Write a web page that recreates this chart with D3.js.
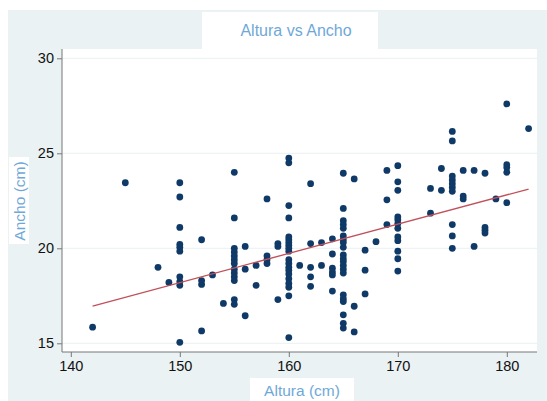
<!DOCTYPE html>
<html>
<head>
<meta charset="utf-8">
<script src="https://cdn.jsdelivr.net/npm/d3@7"></script>
<style>
html,body{margin:0;padding:0;background:#fff;}
svg{display:block;font-family:"Liberation Sans",Arial,Helvetica,sans-serif;}
</style>
</head>
<body>
<svg id="chart" width="547" height="401"></svg>
<script>
// ---- data ----
const chartTitle = "Altura vs Ancho";
const xLabel = "Altura (cm)";
const yLabel = "Ancho (cm)";
const xTicks = [140, 150, 160, 170, 180];
const yTicks = [15, 20, 25, 30];

const altura = [
  142, 145, 148, 149,
  150,150,150,150,150,150,150,150,150,150,
  152,152,152,152, 153, 154,
  155,155,155,155,155,155,155,155,155,155,155,155,155,
  156,156,156, 157,157, 158,158,158,158, 159,159,159,
  160,160,160,160,160,160,160,160,160,160,160,160,160,160,160,160,160,160,160,160,
  161, 162,162,162,162,162, 163,163, 164,164,164,164,164,164,
  165,165,165,165,165,165,165,165,165,165,165,165,165,165,165,165,165,165,165,165,165,
  166,166,166, 167,167,167, 168, 169,169,169,
  170,170,170,170,170,170,170,170,170,170,170,170,
  173,173, 174,174,
  175,175,175,175,175,175,175,175,175,175,
  176,176,176, 177,177, 178,178,178,178, 179,
  180,180,180,180,180, 182
];
const ancho = [
  15.85, 23.45, 19.0, 18.2,
  23.45,22.7,21.1,20.2,20.05,19.85,18.5,18.25,18.05,15.05,
  20.45,18.3,18.1,15.65, 18.6, 17.1,
  24.0,21.6,20.0,19.8,19.6,19.4,19.2,18.9,18.7,18.5,18.3,17.3,17.05,
  20.1,18.9,16.45, 19.1,18.05, 22.6,19.6,19.4,19.2, 20.25,20.1,17.3,
  24.75,24.5,22.25,21.6,20.6,20.45,20.3,20.15,20.0,19.85,19.4,19.2,19.0,18.85,18.65,18.4,18.15,17.95,17.5,15.3,
  19.1, 23.4,20.25,19.0,18.5,18.0, 20.3,19.1, 20.5,19.7,18.95,18.75,18.6,17.75,
  23.95,22.1,21.45,21.25,21.05,20.65,20.45,20.3,20.05,19.65,19.45,19.3,19.1,18.9,18.7,17.55,17.35,17.2,16.5,16.05,15.8,
  23.65,16.95,15.6, 19.9,18.85,17.6, 20.35, 24.1,22.55,21.25,
  24.35,23.5,23.05,21.65,21.5,21.3,21.05,20.6,20.4,19.85,19.45,18.8,
  23.15,21.85, 24.2,23.05,
  26.15,25.65,23.8,23.6,23.4,23.2,23.0,21.25,20.65,20.0,
  24.1,22.75,22.6, 24.1,20.1, 23.95,21.1,20.95,20.8, 22.6,
  27.6,24.4,24.25,24.0,22.4, 26.3
];
// fitted line end points
const fitX = [142, 182];
const fitY = [16.96, 23.12];

// ---- layout ----
const svg = d3.select("#chart");
const plot = {left: 62, right: 537, top: 49, bottom: 352};

const x = d3.scaleLinear().domain([140, 180]).range([70.8, 506.8]);
const y = d3.scaleLinear().domain([15, 30]).range([343.3, 58.3]);

// outer panel
svg.append("rect").attr("x", 8).attr("y", 10).attr("width", 539).attr("height", 391).attr("fill", "#eaf2f3");
// plot region
svg.append("rect").attr("x", plot.left).attr("y", plot.top)
  .attr("width", plot.right - plot.left).attr("height", plot.bottom - plot.top).attr("fill", "#ffffff");

// gridlines
svg.append("g").selectAll("line").data(yTicks).join("line")
  .attr("x1", plot.left).attr("x2", plot.right)
  .attr("y1", d => y(d)).attr("y2", d => y(d))
  .attr("stroke", "#eaf2f3").attr("stroke-width", 1);

// title box
svg.append("rect").attr("x", 202).attr("y", 12).attr("width", 176).attr("height", 37).attr("fill", "#ffffff");
svg.append("text").attr("x", 296).attr("y", 35.5).attr("text-anchor", "middle")
  .attr("font-size", 16).attr("fill", "#6fa8d8").text(chartTitle);

// axes
const xAxis = svg.append("g").attr("transform", `translate(0,${plot.bottom})`)
  .call(d3.axisBottom(x).tickValues(xTicks).tickSize(5).tickPadding(4).tickSizeOuter(0));
xAxis.select(".domain").remove();
const yAxis = svg.append("g").attr("transform", `translate(${plot.left},0)`)
  .call(d3.axisLeft(y).tickValues(yTicks).tickSize(5).tickPadding(3).tickSizeOuter(0));
yAxis.select(".domain").remove();
[xAxis, yAxis].forEach(g => {
  g.selectAll("line").attr("stroke", "#777");
  g.selectAll("text").attr("font-size", 14.5).attr("fill", "#111")
   .attr("font-family", "'Liberation Sans',Arial,sans-serif");
});
svg.append("line").attr("x1", plot.left).attr("x2", plot.right).attr("y1", plot.bottom).attr("y2", plot.bottom)
  .attr("stroke", "#777");
svg.append("line").attr("x1", plot.left).attr("x2", plot.left).attr("y1", plot.top).attr("y2", plot.bottom)
  .attr("stroke", "#777");

// axis titles
svg.append("rect").attr("x", 250).attr("y", 378).attr("width", 104).attr("height", 23).attr("fill", "#ffffff");
svg.append("text").attr("x", 302).attr("y", 395.5).attr("text-anchor", "middle")
  .attr("font-size", 15.5).attr("fill", "#6fa8d8").text(xLabel);
svg.append("rect").attr("x", 9).attr("y", 157).attr("width", 20).attr("height", 87).attr("fill", "#ffffff");
svg.append("text").attr("transform", "translate(24.5,201) rotate(-90)").attr("text-anchor", "middle")
  .attr("font-size", 15.5).attr("fill", "#6fa8d8").text(yLabel);

// points
const pts = altura.map((a, i) => ({a, w: ancho[i]}));
svg.append("g").selectAll("circle").data(pts).join("circle")
  .attr("cx", d => x(d.a)).attr("cy", d => y(d.w)).attr("r", 3.4)
  .attr("fill", "#0f3a68");

// fit line
svg.append("line")
  .attr("x1", x(fitX[0])).attr("y1", y(fitY[0]))
  .attr("x2", x(fitX[1])).attr("y2", y(fitY[1]))
  .attr("stroke", "#c0505a").attr("stroke-width", 1.3);
</script>
</body>
</html>
